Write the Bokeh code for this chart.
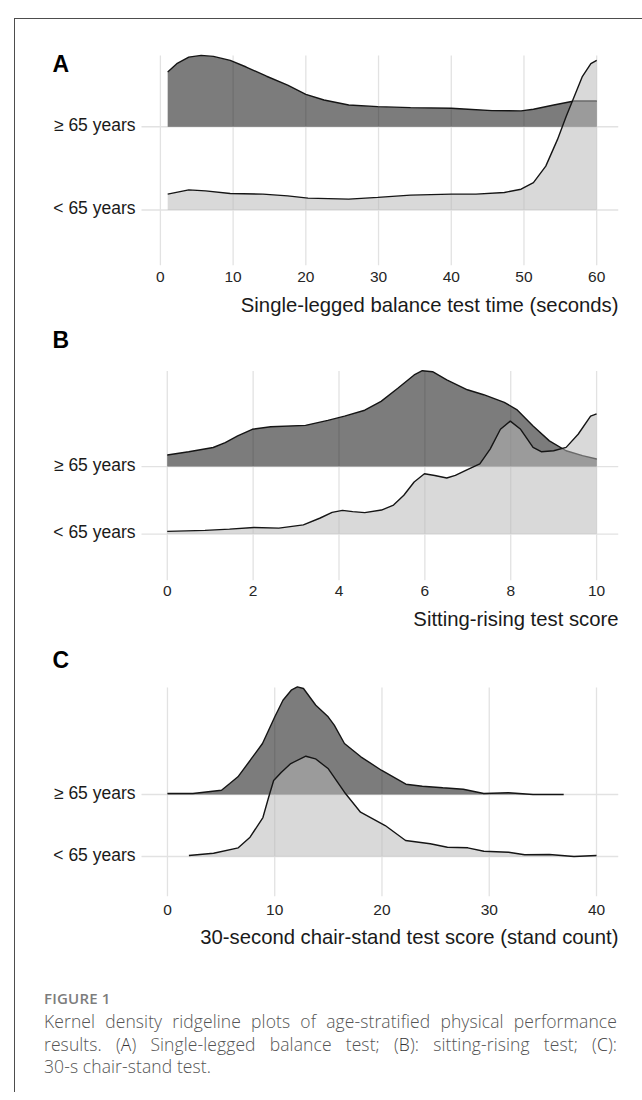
from bokeh.plotting import figure
from bokeh.models import FixedTicker, Div, Range1d, Title, Spacer
from bokeh.layouts import column, row
from bokeh.core.properties import value
from bokeh.embed import file_html
from bokeh.resources import INLINE

# ---------------- data ----------------
row_names = ["< 65 years", "\u2265 65 years"]   # row 1, row 2
row_pos = [1, 2]

# Panel A: single-legged balance test time (seconds)
A_ticks = [0, 10, 20, 30, 40, 50, 60]
A_old_x = [1, 2.25, 3.9, 5.6, 7.3, 9.6, 11.8, 14.6, 17.5, 20, 22.5, 25.9, 29.9, 34.4, 40, 42.3, 45.6, 49.6, 51.3, 54.1, 56.9, 60]
A_old_d = [55.3, 63.7, 70.3, 72, 71, 67, 60.3, 51, 42, 32.7, 27, 22, 20.3, 19.3, 18.7, 17.7, 16.3, 16, 17.7, 22, 26, 26]
A_young_x = [1, 3.9, 6.2, 9.6, 14.1, 17.5, 20.3, 25.9, 29.9, 34.4, 40, 43.4, 47.3, 49.6, 51.3, 53, 54.6, 55.8, 56.9, 58, 59.2, 60]
A_young_d = [16, 20.3, 19.3, 16.7, 16, 14.3, 12, 11, 12.7, 15, 16, 16, 17.7, 21, 27.7, 44.3, 71, 94.3, 114.3, 134.3, 147.7, 151]
A_scale = 84.0

# Panel B: sitting-rising test score
B_ticks = [0, 2, 4, 6, 8, 10]
B_old_x = [0, 0.5, 1.07, 1.35, 1.64, 1.98, 2.41, 3.22, 3.74, 4.13, 4.6, 4.98, 5.37, 5.75, 5.94, 6.18, 6.51, 6.99, 7.37, 7.85, 8.14, 8.52, 8.9, 9.29, 9.67, 10]
B_old_d = [11.7, 15, 19.3, 24.3, 31, 37.7, 40.3, 41.7, 46.7, 51, 57, 66, 79.3, 92.7, 97, 96, 87.7, 77.7, 72.7, 65, 57.7, 41, 26, 16, 11, 7.7]
B_young_x = [0, 0.88, 1.45, 2.02, 2.6, 3.17, 3.55, 3.84, 4.08, 4.32, 4.6, 4.99, 5.27, 5.51, 5.75, 5.99, 6.23, 6.51, 6.71, 6.99, 7.28, 7.52, 7.76, 7.99, 8.23, 8.52, 8.71, 9.0, 9.29, 9.57, 9.86, 10]
B_young_d = [2.7, 3.7, 5, 6.7, 6, 9.3, 16, 22, 24, 22.7, 21.7, 24.3, 29.3, 39.3, 52.7, 61, 59.3, 56.7, 59.3, 65.3, 71, 86, 106, 114.3, 106, 87.7, 83.3, 84.3, 87.7, 101, 119.3, 121.7]
B_scale = 68.3

# Panel C: 30-second chair-stand test score (stand count)
C_ticks = [0, 10, 20, 30, 40]
C_old_x = [0, 2.37, 5.04, 5.81, 6.57, 7.72, 8.86, 10.01, 10.77, 11.54, 12.11, 12.68, 13.83, 14.98, 15.55, 16.5, 18.03, 19.94, 22.23, 23.76, 25.67, 27.58, 29.49, 31.79, 34.08, 36.94]
C_old_d = [1, 1, 4.3, 11, 17.7, 34.3, 51, 77.7, 94.3, 104.3, 107.7, 106, 89.3, 77.7, 69.3, 51, 37.7, 24.3, 10.3, 8.3, 6.7, 5.3, 1, 1.7, 0, 0]
C_young_x = [2, 4.3, 6.6, 7.7, 8.9, 9.4, 9.9, 10.6, 11.5, 12.9, 13.8, 15, 16.5, 18, 20.3, 22.2, 24.5, 26.1, 28, 29.5, 31.8, 33.3, 35.6, 37.9, 40]
C_young_d = [1, 3.3, 8.7, 19.3, 39, 58, 76, 84, 93, 100.3, 97.7, 87.7, 64.3, 44.3, 31, 16, 12.7, 9.3, 8.7, 5.3, 4.3, 1.7, 2, 0, 1]
C_scale = 62.0

titles = ["Single-legged balance test time (seconds)",
          "Sitting-rising test score",
          "30-second chair-stand test score (stand count)"]

FONT = "Liberation Sans"
OLD_FILL, OLD_ALPHA = "#111111", 0.55
YOUNG_FILL, YOUNG_ALPHA = "#b8b8b8", 0.53
LINE = "#151515"
GRID = "#e2e2e2"
PANEL_W = 477      # px width of the ridge panel
EXT_LEFT = 95      # px of frame left of the ridge panel (labels area)


def panel(letter, ticks, xp, yp, old_x, old_d, young_x, young_d, scale, xtitle,
          height, top, bottom, top_ext, letter_dy, standoff, title_standoff):
    ppu = PANEL_W / (xp[1] - xp[0])
    x_start = xp[0] - EXT_LEFT / ppu
    y_end = yp[1] + top_ext / scale
    p = figure(width=627, height=height, x_range=Range1d(x_start, xp[1]),
               y_range=Range1d(yp[0], y_end),
               output_backend="svg", toolbar_location=None, y_axis_location=None,
               min_border_left=31, min_border_right=24,
               min_border_top=top, min_border_bottom=bottom)
    p.outline_line_color = None
    p.background_fill_color = "white"
    p.border_fill_color = "white"
    p.xgrid.visible = False
    p.ygrid.visible = False

    p.xaxis.ticker = FixedTicker(ticks=ticks)
    p.xaxis.axis_line_color = None
    p.xaxis.major_tick_line_color = None
    p.xaxis.minor_tick_line_color = None
    p.xaxis.major_tick_out = 0
    p.xaxis.major_tick_in = 0
    p.xaxis.major_label_text_font = FONT
    p.xaxis.major_label_text_font_size = "15.5px"
    p.xaxis.major_label_text_color = "#262626"
    p.xaxis.major_label_standoff = standoff

    # grid lines of the ridge panel
    n = len(ticks)
    p.segment(x0=ticks, y0=[yp[0]] * n, x1=ticks, y1=[yp[1]] * n,
              line_color=GRID, line_width=1.3)
    p.segment(x0=[xp[0]] * 2, y0=row_pos, x1=[xp[1]] * 2, y1=row_pos,
              line_color=GRID, line_width=1.3)

    # >= 65 years (row 2) drawn first, < 65 years (row 1) on top
    for base, xs, ds, fc, fa in ((2, old_x, old_d, OLD_FILL, OLD_ALPHA),
                                 (1, young_x, young_d, YOUNG_FILL, YOUNG_ALPHA)):
        ys = [base + d / scale for d in ds]
        p.varea(x=xs, y1=[base] * len(xs), y2=ys, fill_color=fc, fill_alpha=fa)
        p.line(xs, ys, line_color=LINE, line_width=1.4)

    # row labels
    p.text(x=[xp[0] - 6 / ppu] * 2, y=row_pos, text=row_names, y_offset=-2,
           text_align="right", text_baseline="alphabetic",
           text_font=value(FONT), text_font_size=value("17.5px"), text_color="#1a1a1a")
    # panel letter
    p.text(x=[xp[0] - 89 / ppu], y=[yp[1] + letter_dy / scale], text=[letter],
           text_align="left", text_baseline="middle",
           text_font=value(FONT), text_font_size=value("23px"),
           text_font_style="bold", text_color="black")
    # axis title, right aligned
    p.add_layout(Title(text=xtitle, align="right", text_font=FONT, text_font_size="20.3px",
                       text_font_style="normal", text_color="#1a1a1a",
                       standoff=title_standoff), "below")
    return p


pA = panel("A", A_ticks, (-2.6, 63.0), (0.3333, 2.857), A_old_x, A_old_d, A_young_x, A_young_d,
           A_scale, titles[0], 303, 29, 55, 7, -8.5, 6, 14)
pB = panel("B", B_ticks, (-0.6, 10.51), (0.312, 3.416), B_old_x, B_old_d, B_young_x, B_young_d,
           B_scale, titles[1], 315, 4, 54, 45, 31, 5, 15)
pC = panel("C", C_ticks, (-2.42, 42.05), (0.355, 3.726), C_old_x, C_old_d, C_young_x, C_young_d,
           C_scale, titles[2], 325, 9, 66, 41, 27, 8, 13)

caption_html = (
    "<div style=\"font-family:'Open Sans',sans-serif;padding-top:27px;width:573px;\">"
    "<div style=\"font-size:15px;font-weight:600;color:#7d7d7d;line-height:18px;letter-spacing:0.2px;\">FIGURE 1</div>"
    "<div style=\"margin-top:3px;font-size:17.5px;font-weight:300;color:#555555;line-height:22.5px;letter-spacing:0.1px;width:573px;\">"
    "<div style=\"white-space:nowrap;text-align:justify;text-align-last:justify;\">Kernel density ridgeline plots of age-stratified physical performance</div>"
    "<div style=\"white-space:nowrap;text-align:justify;text-align-last:justify;\">results. (<span style='color:#333'>A</span>) Single-legged balance test; (<span style='color:#333'>B</span>): sitting-rising test; (<span style='color:#333'>C</span>):</div>"
    "<div style=\"white-space:nowrap;\">30-s chair-stand test.</div>"
    "</div></div>"
)
cap = Div(text=caption_html, width=574, height=130, margin=(0, 0, 0, 29))

framed = column(pA, pB, pC, cap,
                styles={"border-left": "1px solid #4d4d4d", "border-top": "1px solid #4d4d4d"})
layout = column(Spacer(height=18), row(Spacer(width=14), framed))

open("out.html", "w").write(file_html(layout, INLINE))
